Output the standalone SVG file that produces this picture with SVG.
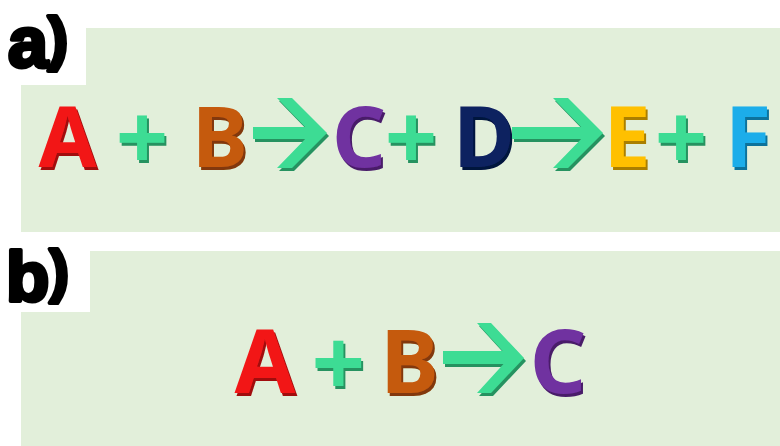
<svg xmlns="http://www.w3.org/2000/svg" width="780" height="446" viewBox="0 0 780 446">
<defs>
<style>
.panel{fill:#E2EFDA}
.lbl{font-family:"Liberation Sans",Arial,sans-serif;font-weight:700;fill:#000;stroke:#000;stroke-width:4;stroke-linejoin:round}
.ch{font-family:"Noto Sans","Open Sans",sans-serif;font-weight:700;font-style:normal;text-anchor:middle;filter:url(#sh)}
.a{font-size:84px}
.b{font-size:88px}
.p{font-size:92px}
.pb{font-size:94px}
.arrow{fill:#3DDC94;filter:url(#sh)}
</style>
<filter id="sh" x="-20%" y="-20%" width="150%" height="150%">
<feOffset in="SourceGraphic" dx="2" dy="2.5" result="o"/>
<feColorMatrix in="o" type="matrix" values="0.4 0 0 0 0  0 0.4 0 0 0  0 0 0.4 0 0  0 0 0 1 0" result="d"/>
<feGaussianBlur in="d" stdDeviation="0.6" result="b"/>
<feMerge><feMergeNode in="b"/><feMergeNode in="SourceGraphic"/></feMerge>
</filter>
</defs>
<rect width="780" height="446" fill="#fff"/>
<g id="panel-a">
<path class="panel" d="M86 28H780V232H21V85H86Z"/>
<text class="lbl" x="8" y="67" font-size="72">a<tspan font-size="60" dy="-8">)</tspan></text>
</g>
<g id="panel-b">
<path class="panel" d="M90 251H780V446H21V312H90Z"/>
<text class="lbl" x="6" y="301" font-size="71">b<tspan font-size="58" dy="-10">)</tspan></text>
</g>
<g id="a-A"><text class="ch a" x="67.5" y="167" fill="#F21818">A</text></g>
<g id="a-plus1"><text class="ch p" x="142" y="170" fill="#3DDC94">+</text></g>
<g id="a-B"><text class="ch a" x="220" y="167" fill="#C55A11">B</text></g>
<g id="a-C"><text class="ch a" x="359" y="167" fill="#7030A0">C</text></g>
<g id="a-plus2"><text class="ch p" x="411" y="170" fill="#3DDC94">+</text></g>
<g id="a-D"><text class="ch a" x="484" y="167" fill="#0E2160">D</text></g>
<g id="a-E"><text class="ch a" x="627" y="167" fill="#FFC000">E</text></g>
<g id="a-plus3"><text class="ch p" x="681" y="170" fill="#3DDC94">+</text></g>
<g id="a-F"><text class="ch a" x="748" y="167" fill="#1AADEA">F</text></g>
<g id="b-A"><text class="ch b" x="265" y="393" fill="#F21818">A</text></g>
<g id="b-plus"><text class="ch pb" x="338.5" y="396" fill="#3DDC94">+</text></g>
<g id="b-B"><text class="ch b" x="409.5" y="393" fill="#C55A11">B</text></g>
<g id="b-C"><text class="ch b" x="558" y="393" fill="#7030A0">C</text></g>
<g id="connectors">
<path class="arrow" d="M253 127H315V139H253Z M277 98H292L327 133L292 168H277L311 133Z"/>
<path class="arrow" d="M512 127H591V139H512Z M553 98H568L603 133L568 168H553L587 133Z"/>
<path class="arrow" d="M443 351H513V364H443Z M477 323H491L524 358L491 393H477L509 358Z"/>
</g>
</svg>
